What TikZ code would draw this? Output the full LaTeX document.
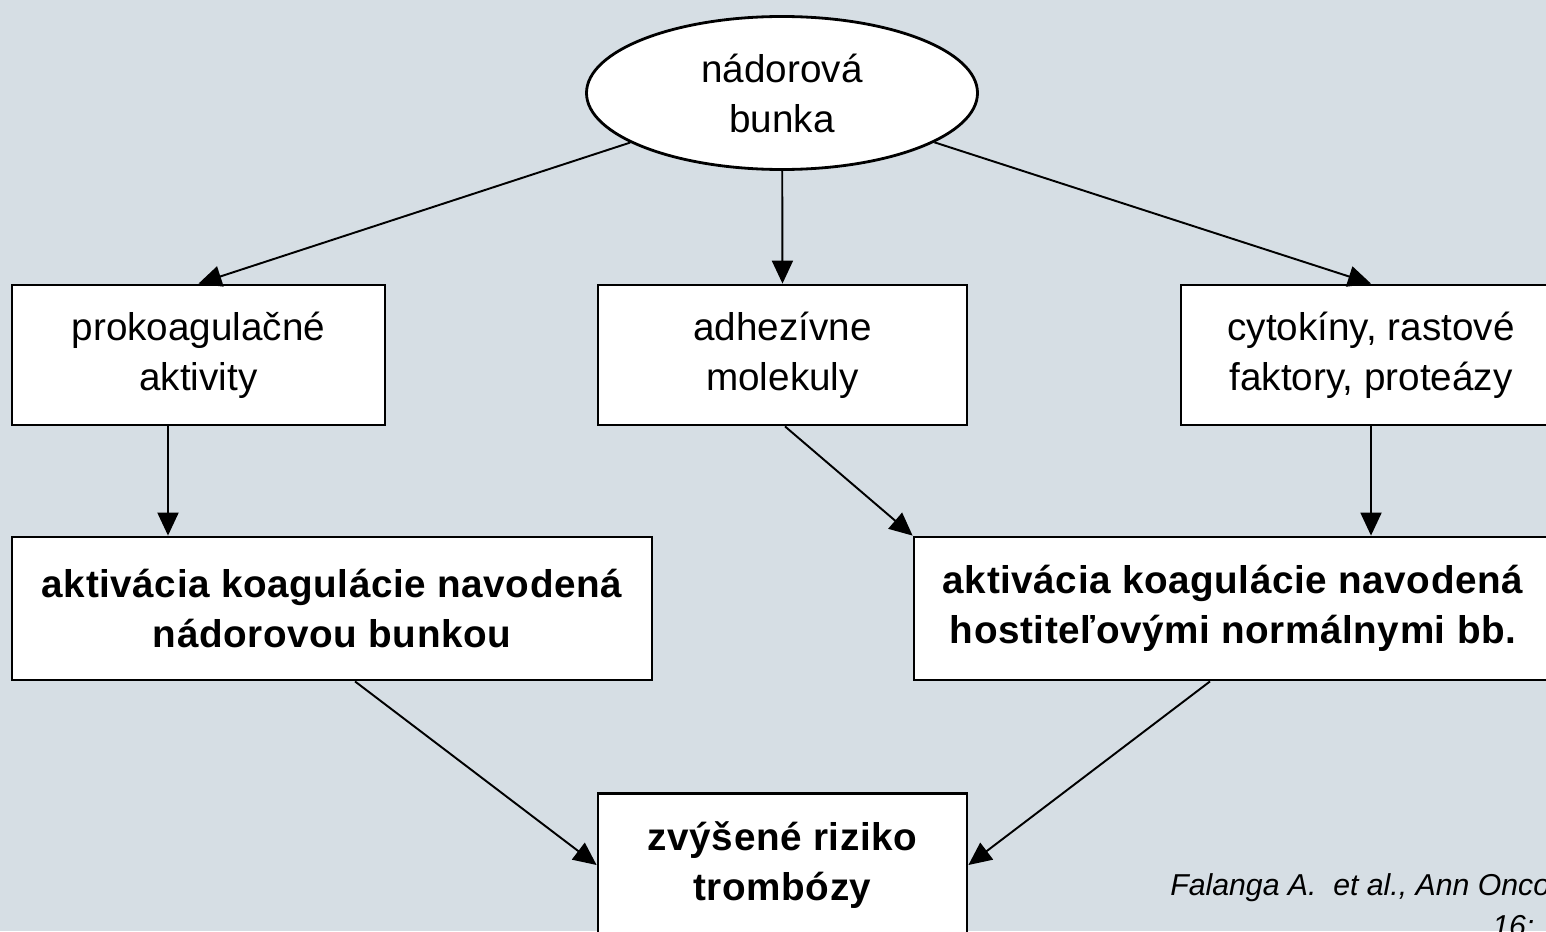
\documentclass[tikz,border=0pt]{standalone}
\usepackage{fontspec}
\setmainfont{Liberation Sans}
\usepackage{tikz}
\usetikzlibrary{positioning,arrows.meta,shapes}
\definecolor{bgpanel}{RGB}{214,222,228}

\begin{document}
\begin{tikzpicture}[
    box/.style={draw, line width=1.6pt, fill=white, minimum width=7.4cm, minimum height=2.8cm,
        align=center, inner sep=0pt, font=\fontsize{22}{28.5}\selectfont},
    bigbox/.style={box, minimum height=2.86cm, font=\fontsize{22}{28.5}\selectfont\bfseries\addfontfeature{LetterSpace=1.5}},
    arr/.style={-{Triangle[length=0.46cm,width=0.42cm]}, line width=1.1pt}
]
            \fill[bgpanel] (0,0) rectangle (30.92,-18.62);
            \useasboundingbox (0,0) rectangle (30.92,-18.62);

            \node[ellipse, draw, line width=1.6pt, fill=white, minimum width=7.82cm, minimum height=3.06cm,
                align=center, inner sep=0pt, font=\fontsize{22}{28.5}\selectfont]
                (tumor) at (15.64,-1.86) {nádorová\\bunka};

            \node[box, minimum width=7.46cm] (prokoag) at (3.97,-7.1) {prokoagulačné\\aktivity};
            \node[box, minimum width=7.38cm] (adhez) at (15.65,-7.1) {adhezívne\\molekuly};
            \node[box, minimum width=7.6cm] (cytok) at (27.42,-7.1) {cytokíny, rastové\\faktory, proteázy};

            \node[bigbox, minimum width=12.8cm] (aktnad) at (6.64,-12.17) {aktivácia koagulácie navodená\\nádorovou bunkou};
            \node[bigbox, minimum width=12.76cm] (akthost) at (24.66,-12.17) {aktivácia koagulácie navodená\\hostiteľovými normálnymi bb.};

            \node[bigbox, minimum width=7.38cm] (riziko) at (15.65,-17.3) {zvýšené riziko\\trombózy};

            \node[anchor=base west, inner sep=0pt, font=\fontsize{17.2}{20}\selectfont\itshape]
                (cite) at (23.4,-17.9) {Falanga A.\ \ et al., Ann Oncol};
            \node[anchor=base west, inner sep=0pt, font=\fontsize{17.2}{20}\selectfont\itshape]
                (citeb) at (29.84,-18.72) {16:};

            \draw[arr] (tumor) -- (prokoag.north);
            \draw[arr] (tumor) -- (adhez.north);
            \draw[arr] (tumor) -- (cytok.north);
            \draw[arr] ([xshift=-0.61cm]prokoag.south) -- ([xshift=-0.61cm]prokoag.south |- aktnad.north);
            \draw[arr] ([xshift=0.05cm]adhez.south) -- (akthost.north west);
            \draw[arr] (cytok.south) -- (cytok.south |- akthost.north);
            \draw[arr] ([xshift=0.46cm]aktnad.south) -- (riziko.west);
            \draw[arr] ([xshift=-0.46cm]akthost.south) -- (riziko.east);
        \end{tikzpicture}
\end{document}
